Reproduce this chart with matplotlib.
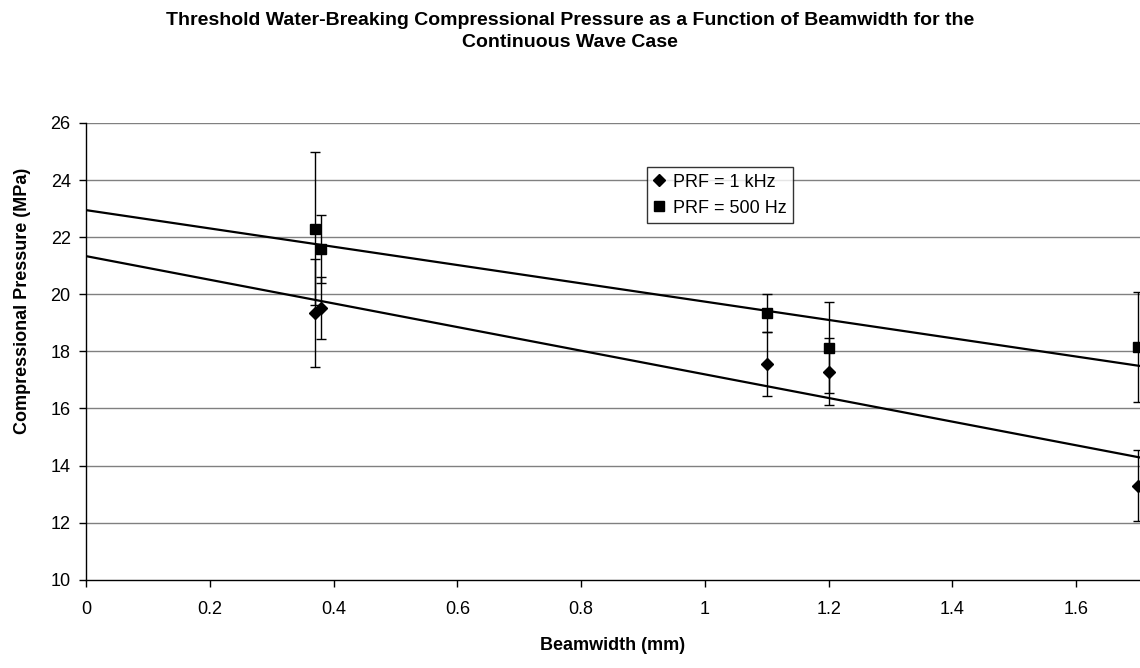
import matplotlib
matplotlib.use("Agg")
import matplotlib.pyplot as plt
from matplotlib.lines import Line2D
import numpy as np

plt.rcParams["font.family"] = ["Liberation Sans", "DejaVu Sans"]

# ── Données ───────────────────────────────────────────────────
beam_1k   = [0.37, 0.38, 1.10, 1.20, 1.70]
press_1k  = [19.35, 19.52, 17.55, 17.29, 13.30]
err_1k    = [1.90, 1.07, 1.12, 1.17, 1.25]

beam_500  = [0.37, 0.38, 1.10, 1.20, 1.70]
press_500 = [22.30, 21.59, 19.34, 18.13, 18.15]
err_500   = [2.68, 1.20, 0.66, 1.60, 1.93]

yticks = [10, 12, 14, 16, 18, 20, 22, 24, 26]
xticks = [0, 0.2, 0.4, 0.6, 0.8, 1.0, 1.2, 1.4, 1.6]
xtick_labels = ["0", "0.2", "0.4", "0.6", "0.8", "1", "1.2", "1.4", "1.6"]

fig = plt.figure(figsize=(11.4, 6.68), dpi=100)
ax = fig.add_axes([0.0754, 0.132, 0.9246, 0.684])

# grille horizontale
for y in yticks[1:]:
    ax.axhline(y, color="#808080", linewidth=1.0, zorder=0)

# barres d'erreur + points
ax.errorbar(beam_1k, press_1k, yerr=err_1k, fmt="D", color="black",
            markersize=6.5, ecolor="black", elinewidth=1.0, capsize=3.5,
            capthick=1.0, zorder=3)
ax.errorbar(beam_500, press_500, yerr=err_500, fmt="s", color="black",
            markersize=7, ecolor="black", elinewidth=1.0, capsize=3.5,
            capthick=1.0, zorder=3)

# droites de tendance (régression linéaire)
xx = np.array([0, 1.75])
for bx, py in [(beam_1k, press_1k), (beam_500, press_500)]:
    slope, inter = np.polyfit(bx, py, 1)
    ax.plot(xx, slope * xx + inter, color="black", linewidth=1.6, zorder=2)

ax.set_xlim(0, 1.703)
ax.set_ylim(10, 26)
ax.set_xticks(xticks)
ax.set_xticklabels(xtick_labels)
ax.set_yticks(yticks)
ax.tick_params(axis="both", direction="out", length=5, width=1,
               labelsize=13, colors="black")
ax.tick_params(axis="y", pad=6)
ax.tick_params(axis="x", pad=10)

for side in ["top", "right"]:
    ax.spines[side].set_visible(False)
for side in ["left", "bottom"]:
    ax.spines[side].set_color("black")
    ax.spines[side].set_linewidth(1)

ax.set_xlabel("Beamwidth (mm)", fontsize=13, fontweight="bold", labelpad=14)
ax.set_ylabel("Compressional Pressure (MPa)", fontsize=13, fontweight="bold")
ax.yaxis.set_label_coords(-0.052, 0.61)

fig.text(0.5, 0.982,
         "Threshold Water-Breaking Compressional Pressure as a Function of Beamwidth for the\n"
         "Continuous Wave Case",
         ha="center", va="top", fontsize=14, fontweight="bold", linespacing=1.4)

handles = [
    Line2D([], [], marker="D", color="black", linestyle="none", markersize=6),
    Line2D([], [], marker="s", color="black", linestyle="none", markersize=6.5),
]
leg = ax.legend(handles, ["PRF = 1 kHz", "PRF = 500 Hz"],
                loc="upper left", bbox_to_anchor=(0.532, 0.903), fontsize=13,
                frameon=True, fancybox=False, shadow=False, handlelength=0.7,
                handletextpad=0.4, borderpad=0.35, labelspacing=0.5,
                borderaxespad=0)
leg.get_frame().set_edgecolor("black")
leg.get_frame().set_linewidth(1.0)

fig.savefig("out.png", dpi=100, facecolor="white")
